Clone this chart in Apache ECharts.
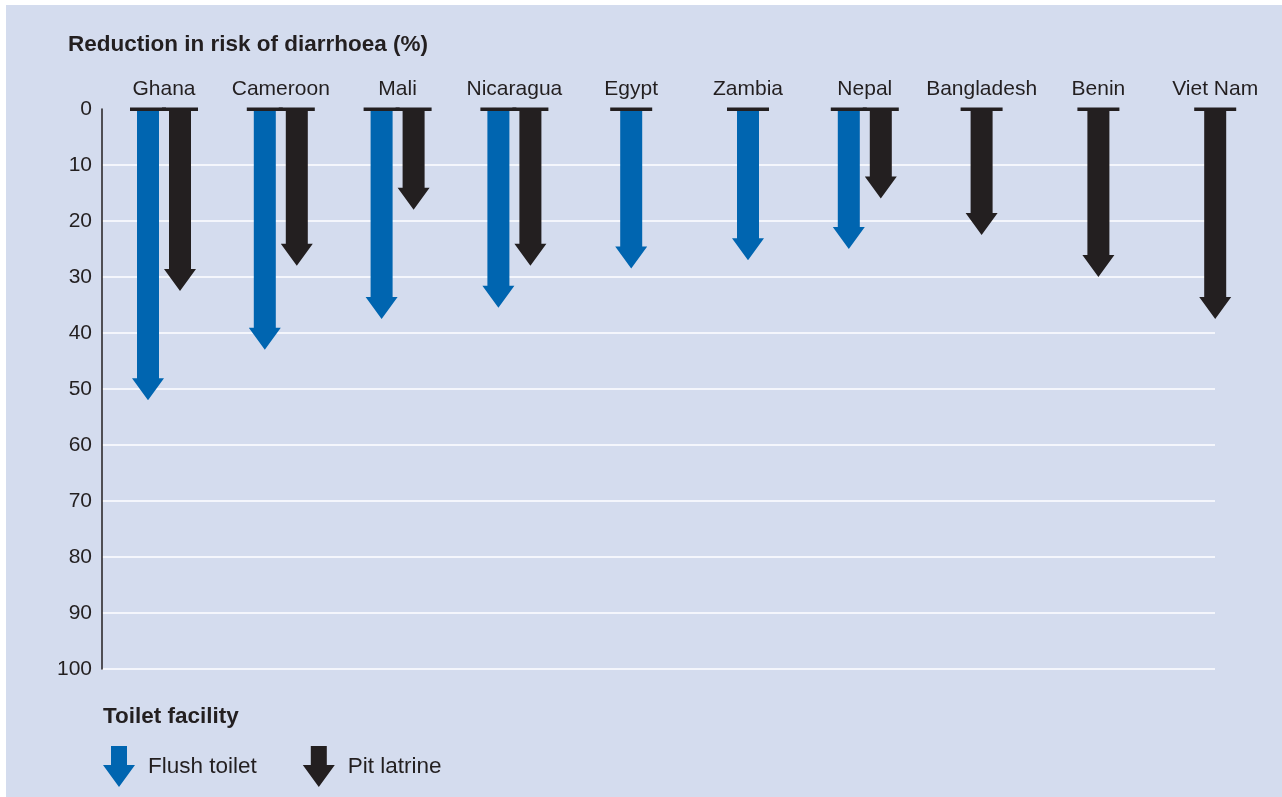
<!DOCTYPE html>
<html>
<head>
<meta charset="utf-8">
<script src="https://cdn.jsdelivr.net/npm/echarts@6/dist/echarts.min.js"></script>
<style>
html,body{margin:0;padding:0;background:#fff;}
#chart{width:1282px;height:797px;}
</style>
</head>
<body>
<div id="chart"></div>
<script>
// ---- data ----
const categories = ['Ghana','Cameroon','Mali','Nicaragua','Egypt','Zambia','Nepal','Bangladesh','Benin','Viet Nam'];
const flushToilet = [52, 43, 37.5, 35.5, 28.5, 27, 25, null, null, null];
const pitLatrine  = [32.5, 28, 18, 28, null, null, 16, 22.5, 30, 37.5];
const yTicks = [0,10,20,30,40,50,60,70,80,90,100];

const BLUE = '#0065b0';
const BLACK = '#231f20';
const FONT = "'Liberation Sans', Arial, sans-serif";

const chart = echarts.init(document.getElementById('chart'));

function buildData(vals, other){
  const out = [];
  vals.forEach((v,i)=>{ if(v!=null) out.push([i, v, other[i]!=null ? 1 : 0]); });
  return out;
}

function makeRender(side){ // side: -1 flush (left), +1 pit (right)
  return function(params, api){
    const idx = api.value(0);
    const v = api.value(1);
    const both = api.value(2) === 1;
    const base = api.coord([idx, 0]);
    const tip = api.coord([idx, v]);
    const cx = base[0] + (both ? side*16 : 0);
    const y0 = base[1];
    const yt = tip[1];
    const sw = 22, hw = 32, hh = 22;
    const yh = yt - hh;
    const barHalf = both ? 18 : 21;
    const color = api.visual('color');
    return {
      type:'group',
      children:[
        {type:'polygon', shape:{points:[
          [cx-sw/2,y0],[cx+sw/2,y0],[cx+sw/2,yh],[cx+hw/2,yh],[cx,yt],[cx-hw/2,yh],[cx-sw/2,yh]
        ]}, style:{fill:color}},
        {type:'rect', shape:{x:cx-barHalf, y:y0-1.5, width:barHalf*2, height:3.5}, style:{fill:BLACK}}
      ]
    };
  };
}

const arrowIcon = 'path://M8,0 L24,0 L24,19 L32,19 L16,41 L0,19 L8,19 Z';

const gridLineColors = yTicks.map((t,i)=> i===0 ? 'rgba(0,0,0,0)' : '#f4f6fc');

const option = {
  backgroundColor:'#ffffff',
  animation:false,
  graphic:[
    {type:'rect', left:6, top:5, shape:{width:1276, height:792}, style:{fill:'#d4dcee'}, z:-100, silent:true}
  ],
  title:[
    {text:'Reduction in risk of diarrhoea (%)', left:68, top:33, padding:0,
     textStyle:{fontFamily:FONT, fontSize:22.5, fontWeight:'bold', color:BLACK}},
    {text:'Toilet facility', left:103, top:705, padding:0,
     textStyle:{fontFamily:FONT, fontSize:22.5, fontWeight:'bold', color:BLACK}}
  ],
  legend:{
    left:103, top:746, padding:0, itemWidth:32, itemHeight:41, itemGap:46,
    textStyle:{fontFamily:FONT, fontSize:22.5, color:BLACK, padding:[0,0,0,8]},
    data:[{name:'Flush toilet', icon:arrowIcon},{name:'Pit latrine', icon:arrowIcon}]
  },
  grid:[
    {left:102, right:67, top:109, bottom:128},
    {left:105.6, right:8.4, top:109, bottom:128}
  ],
  xAxis:[
    {type:'value', gridIndex:0, min:0, max:1, show:false},
    {type:'category', gridIndex:1, data:categories, position:'top',
     axisLine:{show:false}, axisTick:{show:false}, splitLine:{show:false},
     axisLabel:{fontFamily:FONT, fontSize:21, color:BLACK, margin:9, interval:0}}
  ],
  yAxis:[
    {type:'value', gridIndex:0, inverse:true, min:0, max:100, interval:10,
     axisLine:{show:true, lineStyle:{color:BLACK, width:1.5}},
     axisTick:{show:false},
     axisLabel:{fontFamily:FONT, fontSize:21, color:BLACK, margin:10},
     splitLine:{show:true, lineStyle:{color:gridLineColors, width:2}}},
    {type:'value', gridIndex:1, inverse:true, min:0, max:100, show:false}
  ],
  series:[
    {name:'Flush toilet', type:'custom', xAxisIndex:1, yAxisIndex:1,
     itemStyle:{color:BLUE}, encode:{x:0, y:1},
     renderItem:makeRender(-1), data:buildData(flushToilet, pitLatrine)},
    {name:'Pit latrine', type:'custom', xAxisIndex:1, yAxisIndex:1,
     itemStyle:{color:BLACK}, encode:{x:0, y:1},
     renderItem:makeRender(1), data:buildData(pitLatrine, flushToilet)}
  ]
};
chart.setOption(option);
</script>
</body>
</html>
